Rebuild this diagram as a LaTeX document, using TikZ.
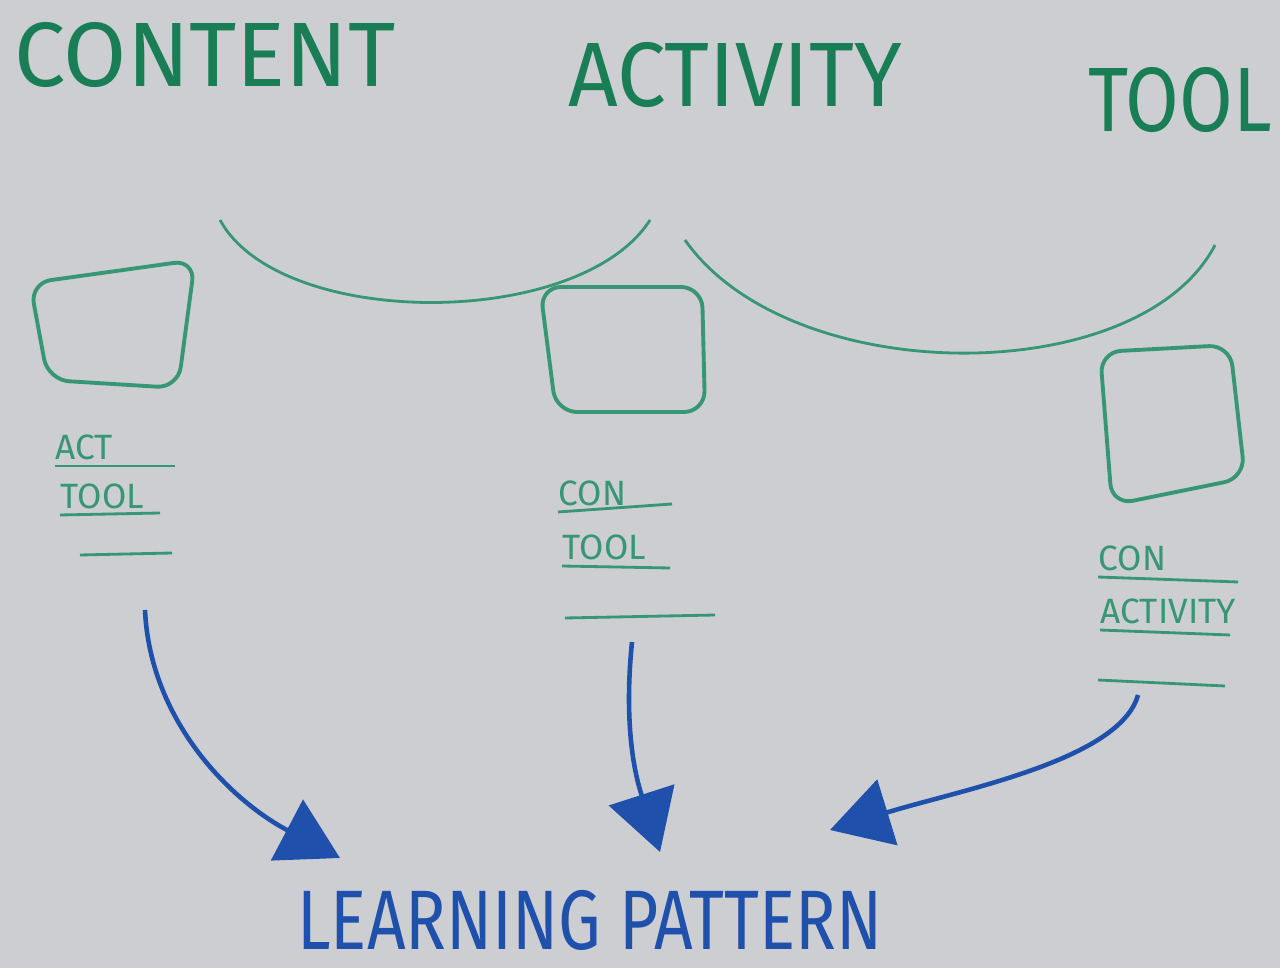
\documentclass[tikz,border=0pt]{standalone}
\usepackage{fontspec}
\setsansfont{Fira Sans}
\usepackage{tikz}
\usetikzlibrary{positioning,arrows.meta}
\definecolor{board}{RGB}{204,206,209}
\definecolor{marker}{RGB}{25,125,85}
\definecolor{pale}{RGB}{55,150,115}
\definecolor{ink}{RGB}{30,80,172}

\begin{document}
\begin{tikzpicture}[x=0.01cm, y=-0.01cm,
  title/.style={font=\sffamily\fontsize{26}{26}\selectfont, text=marker, inner sep=0pt},
  frame/.style={draw=pale, line width=1.1pt, rounded corners=6pt},
  slot/.style={font=\sffamily\fontsize{10}{10}\selectfont, text=pale, anchor=south west, inner xsep=0pt, inner ysep=1pt, minimum height=0.35cm, align=left},
  rule/.style={draw=pale, line width=0.8pt},
  bow/.style={draw=pale, line width=0.8pt},
  flow/.style={draw=ink, line width=1.3pt, -{Triangle[length=6mm,width=6.8mm]}}]
\fill[board] (0,0) rectangle (1280,968);
\useasboundingbox (0,0) rectangle (1280,968);
% headings
\node[title] (content) at (205,55) {CONTENT};
\node[title, xscale=0.95, transform shape] (activity) at (735,75) {ACTIVITY};
\node[title, xscale=0.85, transform shape] (tool) at (1180,100) {TOOL};
\draw[bow] (220,220) .. controls (280,330) and (580,330) .. (650,220);
\draw[bow] (685,240) .. controls (790,390) and (1140,390) .. (1215,245);
% three frames
\draw[frame] (30,283) -- (195,260) -- (178,388) -- (48,380) -- cycle;
\draw[frame] (540,287) -- (702,287) -- (705,412) -- (556,412) -- cycle;
\draw[frame] (1100,352) -- (1230,345) -- (1245,478) -- (1112,505) -- cycle;
% slots below the frames
\node[slot] (c1) at (55,466) {ACT};
\node[slot] (c2) at (60,515) {TOOL};
\draw[rule] (c1.south west) -- ++(120,0);
\draw[rule] (c2.south west) -- ++(100,-2);
\coordinate (e1) at (126,555);
\draw[rule] (80,555) -- (172,553);
\node[slot] (a1) at (558,512) {CON};
\node[slot] (a2) at (562,566) {TOOL};
\draw[rule] (a1.south west) -- ++(114,-8);
\draw[rule] (a2.south west) -- ++(108,2);
\coordinate (e2) at (640,617);
\draw[rule] (565,618) -- (715,615);
\node[slot] (t1) at (1098,577) {CON};
\node[slot] (t2) at (1100,630) {ACTIVITY};
\draw[rule] (t1.south west) -- ++(140,5);
\draw[rule] (t2.south west) -- ++(130,5);
\coordinate (e3) at (1160,683);
\draw[rule] (1098,680) -- (1225,686);
% into the pattern
\node[font=\sffamily\fontsize{24}{24}\selectfont, text=ink, xscale=0.8, transform shape] (learn) at (590,920) {LEARNING PATTERN};
\coordinate (in1) at (340,858);
\coordinate (in2) at (660,852);
\coordinate (in3) at (830,830);
\draw[flow] (e1) ++(19,55) .. controls (150,720) and (230,800) .. (in1);
\draw[flow] (e2) ++(-8,25) .. controls (622,740) and (640,790) .. (in2);
\draw[flow] (e3) ++(-22,12) .. controls (1120,760) and (960,790) .. (in3);
\end{tikzpicture}
\end{document}
